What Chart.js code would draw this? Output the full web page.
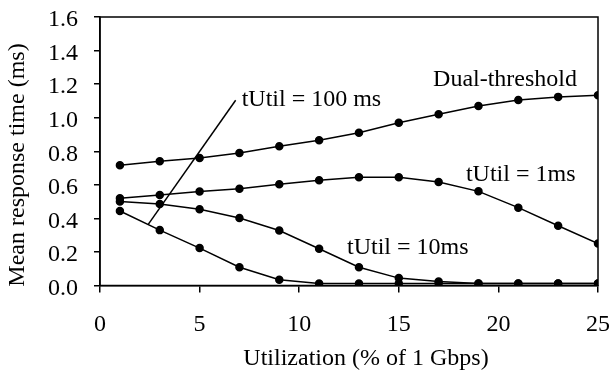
<!DOCTYPE html>
<html>
<head>
<meta charset="utf-8">
<script src="https://cdn.jsdelivr.net/npm/chart.js@4"></script>
<style>
  html, body { margin: 0; padding: 0; background: #fff; }
  #wrap { width: 609px; height: 373px; }
</style>
</head>
<body>
<div id="wrap"><canvas id="myChart"></canvas></div>
<script>
// utilization (% of 1 Gbps)
const utilization = [1, 3, 5, 7, 9, 11, 13, 15, 17, 19, 21, 23, 25]

// mean response time (ms)
const dualThreshold = [0.717, 0.74, 0.76, 0.79, 0.83, 0.866, 0.91, 0.97, 1.02, 1.07, 1.106, 1.124, 1.134]
const tUtil1ms = [0.52, 0.54, 0.56, 0.577, 0.603, 0.627, 0.645, 0.645, 0.617, 0.561, 0.464, 0.356, 0.25]
const tUtil10ms = [0.50, 0.486, 0.454, 0.402, 0.328, 0.219, 0.109, 0.044, 0.024, 0.012, 0.012, 0.012, 0.012]
const tUtil100ms = [0.444, 0.33, 0.223, 0.109, 0.034, 0.012, 0.012, 0.012, 0.012, 0.012, 0.012, 0.012, 0.012]

// pointer line for the 100 ms label
const pointerX = [2.43, 6.81]
const pointerY = [0.366, 1.104]

const xTicks = [0, 5, 10, 15, 20, 25]
const yTicks = [0, 0.2, 0.4, 0.6, 0.8, 1.0, 1.2, 1.4, 1.6]

const xTitle = 'Utilization (% of 1 Gbps)'
const yTitle = 'Mean response time (ms)'

const noteText = ['tUtil = 100 ms', 'Dual-threshold', 'tUtil = 1ms', 'tUtil = 10ms']
const noteX = [7.11, 16.72, 18.37, 12.4]
const noteY = [1.11, 1.229, 0.658, 0.223]

const serif = "'Liberation Serif', 'Times New Roman', serif"

function toPoints(xs, ys) {
    const pts = []
    for (let i = 0; i < xs.length; i++) {
        pts.push({x: xs[i], y: ys[i]})
    }
    return pts
}

function series(label, ys) {
    return {
        label: label,
        data: toPoints(utilization, ys),
        borderColor: '#000',
        backgroundColor: '#000',
        borderWidth: 1.5,
        pointRadius: 3.5,
        pointHoverRadius: 3.5,
        tension: 0
    }
}

// box round the plot, axis titles and the text notes
const extras = {
    id: 'extras',
    afterDatasetsDraw(chart) {
        const ctx = chart.ctx
        const a = chart.chartArea
        const xs = chart.scales.x
        const ys = chart.scales.y
        ctx.save()
        ctx.strokeStyle = '#000'
        ctx.lineWidth = 1.5
        ctx.strokeRect(a.left, a.top, a.right - a.left, a.bottom - a.top)
        ctx.fillStyle = '#000'
        ctx.font = '24px ' + serif
        ctx.textAlign = 'left'
        ctx.textBaseline = 'middle'
        for (let i = 0; i < noteText.length; i++) {
            ctx.fillText(noteText[i], xs.getPixelForValue(noteX[i]), ys.getPixelForValue(noteY[i]))
        }
        // axis titles sit a little off-centre in the original
        ctx.textAlign = 'center'
        ctx.fillText(xTitle, 366, 359)
        ctx.translate(18, 165)
        ctx.rotate(-Math.PI / 2)
        ctx.fillText(yTitle, 0, 0)
        ctx.restore()
    }
}

const ctx = document.getElementById('myChart')
const myChart = new Chart(ctx, {
    type: 'line',
    data: {
        datasets: [
            series('Dual-threshold', dualThreshold),
            series('tUtil = 1ms', tUtil1ms),
            series('tUtil = 10ms', tUtil10ms),
            series('tUtil = 100ms', tUtil100ms),
            {
                label: 'pointer',
                data: toPoints(pointerX, pointerY),
                borderColor: '#000',
                borderWidth: 1.5,
                pointRadius: 0,
                tension: 0
            }
        ]
    },
    options: {
        responsive: true,
        maintainAspectRatio: false,
        animation: false,
        layout: { padding: { top: 17, right: 11, left: 0, bottom: 0 } },
        plugins: {
            legend: { display: false },
            tooltip: { enabled: false }
        },
        scales: {
            x: {
                type: 'linear',
                min: 0,
                max: 25,
                afterBuildTicks: scale => { scale.ticks = xTicks.map(v => ({value: v})) },
                afterFit: scale => {
                    scale.height = 87.5
                    scale.paddingLeft = 0
                    scale.paddingRight = 0
                },
                border: { color: '#000', width: 1.5 },
                grid: { display: true, drawOnChartArea: false, color: '#000', tickLength: 7, lineWidth: 1.5 },
                ticks: { color: '#000', font: { family: serif, size: 24 }, padding: 18, maxRotation: 0 }
            },
            y: {
                min: 0,
                max: 1.6,
                afterBuildTicks: scale => { scale.ticks = yTicks.map(v => ({value: v})) },
                afterFit: scale => {
                    scale.width = 100
                    scale.paddingTop = 0
                    scale.paddingBottom = 0
                },
                border: { color: '#000', width: 1.5 },
                grid: { display: true, drawOnChartArea: false, color: '#000', tickLength: 6, lineWidth: 1.5 },
                ticks: {
                    color: '#000',
                    font: { family: serif, size: 24 },
                    padding: 16,
                    labelOffset: 3,
                    callback: v => v.toFixed(1)
                }
            }
        }
    },
    plugins: [extras]
})
</script>
</body>
</html>
